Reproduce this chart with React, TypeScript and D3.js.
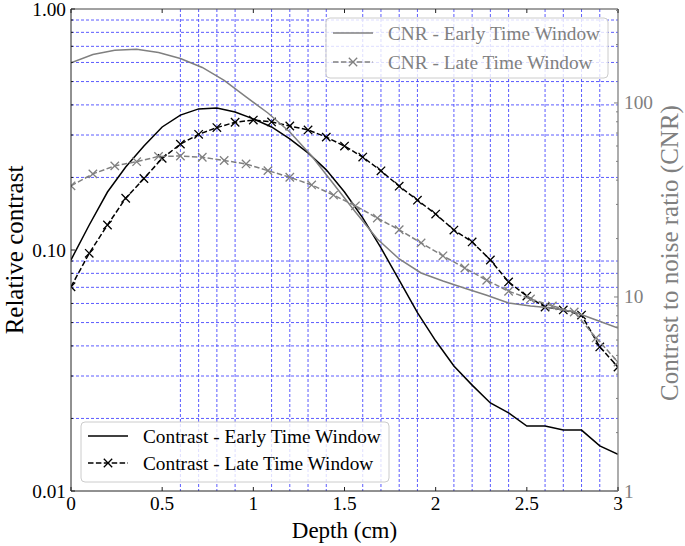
import React from "react";
import * as d3 from "d3";

// ---- data ----
const depthContrast = [0, 0.1, 0.2, 0.3, 0.4, 0.5, 0.6, 0.7, 0.8, 0.9, 1.0, 1.1, 1.2, 1.3, 1.4, 1.5, 1.6, 1.7, 1.8, 1.9, 2.0, 2.1, 2.2, 2.3, 2.4, 2.5, 2.6, 2.7, 2.8, 2.9, 3.0];
const contrastEarly = [0.091, 0.127, 0.174, 0.221, 0.27, 0.324, 0.363, 0.385, 0.388, 0.374, 0.35, 0.324, 0.289, 0.253, 0.215, 0.174, 0.136, 0.102, 0.075, 0.055, 0.042, 0.033, 0.0275, 0.0232, 0.0211, 0.0186, 0.0186, 0.0179, 0.0179, 0.0154, 0.0142];
const contrastLate = [0.0704, 0.0969, 0.127, 0.164, 0.198, 0.24, 0.275, 0.302, 0.322, 0.339, 0.346, 0.34, 0.327, 0.315, 0.294, 0.27, 0.243, 0.213, 0.184, 0.161, 0.141, 0.121, 0.108, 0.0909, 0.0737, 0.0644, 0.058, 0.0564, 0.0537, 0.0396, 0.0327];

const depthCNR = [0, 0.12, 0.24, 0.36, 0.48, 0.6, 0.72, 0.84, 0.96, 1.08, 1.2, 1.32, 1.44, 1.56, 1.68, 1.8, 1.92, 2.04, 2.16, 2.28, 2.4, 2.52, 2.64, 2.76, 2.88, 3.0];
const cnrEarly = [161.3, 177.8, 186.9, 189.2, 182.1, 169.6, 152.4, 130.6, 107.4, 88.8, 70.9, 53.3, 38.2, 27.4, 19.9, 15.7, 13.3, 12.1, 11.1, 10.2, 9.31, 8.99, 8.78, 8.37, 7.61, 6.92];
const cnrLate = [37.4, 43.1, 47.4, 49.8, 53.0, 53.3, 52.5, 50.5, 48.5, 44.8, 41.4, 37.8, 33.5, 29.5, 25.5, 22.2, 19.0, 16.3, 14.1, 12.2, 10.7, 9.77, 8.99, 8.37, 6.15, 4.62];

const xTicks = [0, 0.5, 1, 1.5, 2, 2.5, 3];
const xTickLabels = ["0", "0.5", "1", "1.5", "2", "2.5", "3"];
const xGrid = [0.6, 0.7, 0.8, 0.9, 1.1, 1.2, 1.3, 1.4, 1.6, 1.7, 1.8, 1.9, 2.1, 2.2, 2.3, 2.4, 2.6, 2.7, 2.8, 2.9];
const leftMajor = [0.01, 0.1, 1];
const leftMajorLabels = ["0.01", "0.10", "1.00"];
const leftMinor = [0.02, 0.03, 0.04, 0.05, 0.06, 0.07, 0.08, 0.09, 0.2, 0.3, 0.4, 0.5, 0.6, 0.7, 0.8, 0.9];
const rightMajor = [1, 10, 100];
const rightMajorLabels = ["1", "10", "100"];
const rightMinor = [2, 3, 4, 5, 6, 7, 8, 9, 20, 30, 40, 50, 60, 70, 80, 90, 200, 300];

const W = 685, H = 546;
const L = 71, R = 618, T = 9, B = 491;
const FONT = "'Liberation Serif', 'Times New Roman', serif";
const GRAY = "#808080";
const TICK_FS = 19.3;
const LEG_FS = 19.3;
const XTITLE_FS = 23;
const YTITLE_FS = 25;

export default function App() {
  const x = d3.scaleLinear().domain([0, 3]).range([L, R]);
  const yL = d3.scaleLog().domain([0.01, 1]).range([B, T]);
  const yR = d3.scaleLog().domain([1, 305]).range([B, T]);

  const lineL = (vals: number[], xs: number[]) =>
    d3.line<number>().x((_, i) => x(xs[i])).y((v) => yL(v))(vals) || "";
  const lineR = (vals: number[], xs: number[]) =>
    d3.line<number>().x((_, i) => x(xs[i])).y((v) => yR(v))(vals) || "";

  const xMark = (cx: number, cy: number, color: string, key: string, s = 4.2) => (
    <path key={key} d={`M${cx - s},${cy - s}L${cx + s},${cy + s}M${cx - s},${cy + s}L${cx + s},${cy - s}`} stroke={color} strokeWidth={1.3} fill="none" />
  );

  const dash = "5.5,2.4";

  return (
    <svg width={W} height={H} style={{ position: "absolute", left: 0, top: 0, background: "#fff" }} fontFamily={FONT}>
      <defs>
        <clipPath id="plot">
          <rect x={L} y={T} width={R - L} height={B - T} />
        </clipPath>
      </defs>
      <rect x={0} y={0} width={W} height={H} fill="#fff" />
      {/* grid */}
      <g stroke="#2a2aff" strokeWidth={0.9} strokeDasharray="3,2" opacity={0.85}>
        {xGrid.map((d) => (
          <line key={"gx" + d} x1={x(d)} x2={x(d)} y1={T} y2={B} />
        ))}
        {leftMinor.map((d) => (
          <line key={"gy" + d} x1={L} x2={R} y1={yL(d)} y2={yL(d)} />
        ))}
      </g>
      {/* contrast lines */}
      <g clipPath="url(#plot)">
        <path d={lineL(contrastEarly, depthContrast)} fill="none" stroke="#000" strokeWidth={1.5} />
        <path d={lineL(contrastLate, depthContrast)} fill="none" stroke="#000" strokeWidth={1.5} strokeDasharray={dash} />
        {contrastLate.map((v, i) => xMark(x(depthContrast[i]), yL(v), "#000", "cl" + i))}
      </g>
      {/* bottom legend */}
      <g>
        <rect x={81} y={422} width={308} height={60} rx={4} fill="#fff" fillOpacity={0.8} stroke="#cccccc" strokeWidth={1} />
        <line x1={88} x2={128} y1={436} y2={436} stroke="#000" strokeWidth={1.5} />
        <line x1={88} x2={128} y1={463} y2={463} stroke="#000" strokeWidth={1.5} strokeDasharray={dash} />
        {xMark(108, 463, "#000", "lg1")}
        <text x={143} y={442.5} fontSize={LEG_FS} fill="#000">Contrast - Early Time Window</text>
        <text x={143} y={469.5} fontSize={LEG_FS} fill="#000">Contrast - Late Time Window</text>
      </g>
      {/* CNR lines */}
      <g clipPath="url(#plot)">
        <path d={lineR(cnrEarly, depthCNR)} fill="none" stroke={GRAY} strokeWidth={1.5} />
        <path d={lineR(cnrLate, depthCNR)} fill="none" stroke={GRAY} strokeWidth={1.5} strokeDasharray={dash} />
        {cnrLate.map((v, i) => xMark(x(depthCNR[i]), yR(v), GRAY, "nl" + i))}
      </g>
      {/* top legend */}
      <g>
        <rect x={326} y={18} width={282} height={60} rx={4} fill="#fff" fillOpacity={0.8} stroke="#cccccc" strokeWidth={1} />
        <line x1={333} x2={373} y1={33} y2={33} stroke={GRAY} strokeWidth={1.5} />
        <line x1={333} x2={373} y1={62} y2={62} stroke={GRAY} strokeWidth={1.5} strokeDasharray={dash} />
        {xMark(353, 62, GRAY, "lg2")}
        <text x={388} y={39.5} fontSize={LEG_FS} fill={GRAY}>CNR - Early Time Window</text>
        <text x={388} y={68.5} fontSize={LEG_FS} fill={GRAY}>CNR - Late Time Window</text>
      </g>
      {/* spines */}
      <line x1={L} x2={L} y1={T} y2={B} stroke="#222" strokeWidth={1} />
      <line x1={L} x2={R} y1={B} y2={B} stroke="#222" strokeWidth={1} />
      <line x1={L} x2={R} y1={T} y2={T} stroke="#444" strokeWidth={1} />
      <line x1={R} x2={R} y1={T} y2={B} stroke={GRAY} strokeWidth={1.3} />
      {/* x ticks */}
      {xTicks.map((d, i) => (
        <g key={"xt" + d}>
          <line x1={x(d)} x2={x(d)} y1={B} y2={B - 4} stroke="#222" />
          <line x1={x(d)} x2={x(d)} y1={T} y2={T + 4} stroke="#222" />
          <text x={x(d)} y={510} fontSize={TICK_FS} textAnchor="middle" fill="#000">{xTickLabels[i]}</text>
        </g>
      ))}
      {/* left ticks */}
      {leftMajor.map((d, i) => (
        <g key={"lt" + d}>
          <line x1={L} x2={L + 4} y1={yL(d)} y2={yL(d)} stroke="#222" />
          <text x={66} y={yL(d) + 6.5} fontSize={TICK_FS} textAnchor="end" fill="#000">{leftMajorLabels[i]}</text>
        </g>
      ))}
      {leftMinor.map((d) => (
        <line key={"lm" + d} x1={L} x2={L + 2} y1={yL(d)} y2={yL(d)} stroke="#222" />
      ))}
      {/* right ticks */}
      {rightMajor.map((d, i) => (
        <g key={"rt" + d}>
          <line x1={R} x2={R - 4} y1={yR(d)} y2={yR(d)} stroke={GRAY} />
          <text x={624} y={yR(d) + 6.5} fontSize={TICK_FS} textAnchor="start" fill={GRAY}>{rightMajorLabels[i]}</text>
        </g>
      ))}
      {rightMinor.map((d) => (
        <line key={"rm" + d} x1={R} x2={R - 2} y1={yR(d)} y2={yR(d)} stroke={GRAY} />
      ))}
      {/* axis titles */}
      <text x={(L + R) / 2} y={538} fontSize={XTITLE_FS} textAnchor="middle" fill="#000">Depth (cm)</text>
      <text transform={`translate(22.5, ${(T + B) / 2}) rotate(-90)`} fontSize={YTITLE_FS} textAnchor="middle" fill="#000">Relative contrast</text>
      <text transform={`translate(678, ${(T + B) / 2 + 3}) rotate(-90)`} fontSize={YTITLE_FS} textAnchor="middle" fill={GRAY}>Contrast to noise ratio (CNR)</text>
    </svg>
  );
}
